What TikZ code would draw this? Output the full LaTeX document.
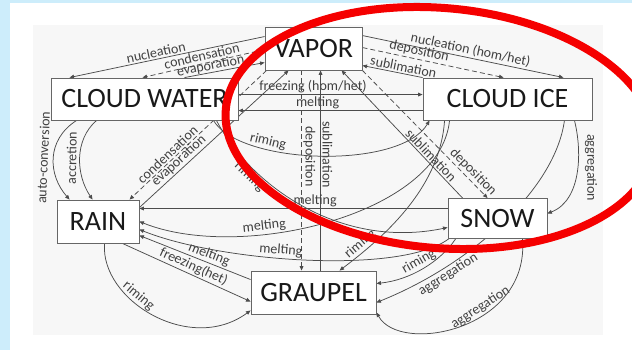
\documentclass[tikz,border=0pt]{standalone}
\usepackage{fontspec}
\setmainfont{Carlito}
\usetikzlibrary{arrows.meta}
\definecolor{slideblue}{RGB}{205,237,251}
\definecolor{ringred}{RGB}{245,0,0}
\pgfdeclarelayer{back}
\pgfdeclarelayer{edges}
\pgfsetlayers{back,edges,main}
\tikzset{
  >={Triangle[length=4.5pt,width=3.8pt]},
  box/.style={draw=black!60, line width=0.9pt, fill=white, inner sep=0pt,
    minimum height=42pt, text=black!90, font=\fontsize{28}{30}\selectfont},
  flow/.style={draw=black!70, line width=0.75pt, ->},
  dflow/.style={flow, dash pattern=on 5pt off 3pt},
  lbl/.style={text=black!75, font=\fontsize{14}{16}\selectfont, inner sep=1.5pt},
}
\begin{document}
\begin{tikzpicture}[x=1pt,y=-1pt]
\useasboundingbox (0,0) rectangle (632,350);
\begin{pgfonlayer}{back}
  \fill[slideblue] (0,0) rectangle (632,350);
  \fill[white] (10,3) rectangle (632,350);
  \fill[black!3] (33,25) rectangle (603,335);
\end{pgfonlayer}

% the six water species
\node[box, minimum width=97pt, minimum height=43pt] (vapor) at (313.5,48.5) {VAPOR};
\node[box, minimum width=187pt] (cwater) at (144.5,99) {CLOUD WATER};
\node[box, minimum width=169pt] (cice) at (507.5,99) {CLOUD ICE};
\node[box, minimum width=82pt, minimum height=43pt] (rain) at (98,221.5) {RAIN};
\node[box, minimum width=99pt, minimum height=40pt] (snow) at (497.5,218.5) {SNOW};
\node[box, minimum width=125pt, minimum height=43pt] (graupel) at (313.5,292.5) {GRAUPEL};

\begin{pgfonlayer}{edges}
  % vapor <-> cloud water
  \draw[flow] ([yshift=-10pt]vapor.north west) -- ([xshift=19pt]cwater.north west) node[lbl, sloped, above, pos=0.55] (lNuc) {nucleation};
  \draw[dflow] ([yshift=-23pt]vapor.north west) -- ([xshift=92pt]cwater.north west) node[lbl, sloped, above, pos=0.5, inner sep=2.5pt] (lCond) {condensation};
  \draw[flow] ([xshift=134pt]cwater.north west) -- ([yshift=-36pt]vapor.north west) node[lbl, sloped, above, pos=0.34, inner sep=0pt] (lEvap) {evaporation};
  % vapor <-> cloud ice
  \draw[flow] ([yshift=-9pt]vapor.north east) -- ([xshift=-29pt]cice.north east) node[lbl, sloped, above, pos=0.53] (lNucHom) {nucleation (hom/het)};
  \draw[dflow] ([yshift=-21pt]vapor.north east) -- ([xshift=81pt]cice.north west) node[lbl, sloped, above, pos=0.39] (lDepCI) {deposition};
  \draw[flow] (cice.north west) -- ([yshift=-39pt]vapor.north east) node[lbl, sloped, above, pos=0.34] (lSubCI) {sublimation};
  % cloud water <-> cloud ice
  \draw[flow] ([yshift=-17pt]cwater.north east) -- ([yshift=-17pt]cice.north west) node[lbl, above, pos=0.405] (lFrz) {freezing (hom/het)};
  \draw[flow] ([yshift=-33pt]cice.north west) -- ([yshift=-33pt]cwater.north east) node[lbl, above, pos=0.57] (lMeltCI) {melting};
  % vapor <-> rain
  \draw[dflow] ([xshift=2pt]vapor.south west) -- ([xshift=73pt]rain.north west) node[lbl, sloped, above, pos=0.69] (lCondR) {condensation};
  \draw[flow] ([yshift=14pt]rain.east) -- ([xshift=24pt]vapor.south west) node[lbl, sloped, above, pos=0.3] (lEvapR) {evaporation};
  % vapor <-> graupel
  \draw[dflow] ([xshift=37pt]vapor.south west) -- ([xshift=51pt]graupel.north west) node[lbl, rotate=-90, anchor=south, pos=0.43] (lDepG) {deposition};
  \draw[flow, <-] ([xshift=56pt]vapor.south west) -- ([xshift=70pt]graupel.north west) node[lbl, rotate=-90, anchor=south, pos=0.42] (lSubG) {sublimation};
  % vapor <-> snow
  \draw[flow] ([xshift=15pt]snow.north west) -- ([xshift=77pt]vapor.south west) node[lbl, sloped, above, pos=0.3] (lSubS) {sublimation};
  \draw[dflow] (vapor.south east) -- ([xshift=40pt]snow.north west) node[lbl, sloped, above, pos=0.84] (lDepS) {deposition};
  % cloud water -> rain
  \draw[flow, <-] ([xshift=13pt]rain.north west) .. controls (48,175) and (46,140) .. ([xshift=26pt]cwater.south west) node[lbl, sloped, above, midway, inner sep=5pt] (lAuto) {auto-conversion};
  \draw[flow, <-] ([xshift=36pt]rain.north west) .. controls (76,175) and (74,140) .. ([xshift=46pt]cwater.south west) node[lbl, sloped, above, midway, inner sep=3pt] (lAcc) {accretion};
  % riming of cloud water
  \draw[flow] ([xshift=-25pt]cwater.south east) .. controls (240,165) and (400,170) .. ([xshift=7pt]cice.south west) node[lbl, sloped, above, pos=0.3] (lRimCI) {riming};
  \draw[flow] ([xshift=-22pt]cwater.south east) .. controls (250,185) and (340,250) .. ([yshift=-9pt]snow.west) node[lbl, sloped, below, pos=0.27] (lRimS) {riming};
  % melting to rain
  \draw[flow] ([xshift=27pt]cice.south west) .. controls (440,215) and (240,262) .. (rain.east) node[lbl, sloped, above, pos=0.66] (lMeltC) {melting};
  \draw[flow] ([yshift=10pt]snow.west) -- ([yshift=13pt]rain.east) node[lbl, above, pos=0.43] (lMeltD) {melting};
  \draw[flow] ([yshift=-9pt]graupel.north west) -- ([yshift=-14pt]rain.east) node[lbl, sloped, above, pos=0.4] (lMeltG) {melting};
  \draw[flow] ([xshift=1pt]snow.south west) .. controls (400,275) and (220,262) .. ([yshift=-8pt]rain.east) node[lbl, sloped, above, pos=0.57] (lMeltS) {melting};
  % rain -> graupel
  \draw[flow] ([xshift=-17pt]rain.south east) -- ([yshift=-31pt]graupel.north west) node[lbl, sloped, above, pos=0.53] (lFrzHet) {freezing(het)};
  \draw[flow] ([xshift=48pt]rain.south west) .. controls (100,300) and (190,355) .. ([yshift=4pt]graupel.south west) node[lbl, sloped, above, pos=0.38] (lRimR) {riming};
  % ice and snow -> graupel
  \draw[flow] ([xshift=22pt]cice.south west) .. controls (440,190) and (380,240) .. ([xshift=89pt]graupel.north west) node[lbl, sloped, above, pos=0.8] (lRimG) {riming};
  \draw[flow] ([xshift=-28pt]cice.south east) .. controls (555,190) and (470,265) .. ([yshift=-10pt]graupel.east) node[lbl, sloped, below, pos=0.75] (lAggI) {aggregation};
  \draw[flow] ([xshift=8pt]snow.south west) .. controls (440,262) and (410,280) .. ([yshift=9pt]graupel.east) node[lbl, sloped, above, pos=0.5] (lRimSG) {riming};
  \draw[flow] ([xshift=-25pt]snow.south east) .. controls (530,330) and (400,355) .. ([yshift=2pt]graupel.south east) node[lbl, sloped, above, pos=0.38] (lAggK) {aggregation};
  % cloud ice -> snow
  \draw[flow] ([xshift=-18pt]cice.south east) .. controls (582,150) and (582,200) .. ([yshift=5pt]snow.east) node[lbl, rotate=-90, anchor=south, pos=0.45, inner sep=7pt] (lAggL) {aggregation};
\end{pgfonlayer}

% highlight ring
\clip (0,0) rectangle (632,350);
\draw[ringred, line width=8pt, rotate around={-5:(440,128)}] (440,128) ellipse [x radius=215, y radius=120];
\end{tikzpicture}
\end{document}
